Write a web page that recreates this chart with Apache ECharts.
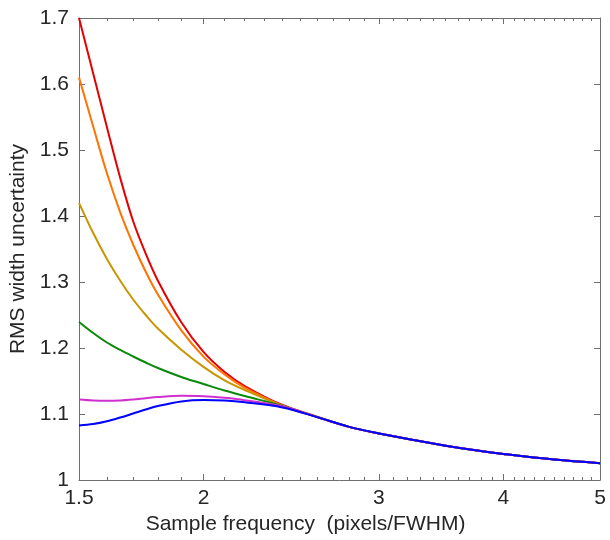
<!DOCTYPE html>
<html>
<head>
<meta charset="utf-8">
<script src="https://cdn.jsdelivr.net/npm/echarts@6/dist/echarts.min.js"></script>
<style>
html,body{margin:0;padding:0;background:#fff;}
#chart{width:610px;height:540px;}
</style>
</head>
<body>
<div id="chart"></div>
<script>
// Sample frequency (pixels/FWHM)
var xs = [1.5, 1.55, 1.6, 1.65, 1.7, 1.75, 1.8, 1.9, 2.0, 2.1, 2.2, 2.4, 2.6, 2.8, 3.0, 3.25, 3.5, 3.75, 4.0, 4.5, 5.0];
var redVals     = [1.700, 1.616, 1.5345, 1.4576, 1.392, 1.343, 1.302, 1.239, 1.194, 1.1636, 1.1424, 1.1136, 1.0958, 1.0805, 1.0705, 1.0605, 1.052, 1.045, 1.0395, 1.031, 1.0255];
var orangeVals  = [1.610, 1.5355, 1.4647, 1.4055, 1.3568, 1.3156, 1.281, 1.2267, 1.187, 1.160, 1.140, 1.1128, 1.0956, 1.0805, 1.0705, 1.0605, 1.052, 1.045, 1.0395, 1.031, 1.0255];
var goldVals    = [1.420, 1.3742, 1.335, 1.302, 1.2735, 1.250, 1.2295, 1.1975, 1.1715, 1.151, 1.1364, 1.1125, 1.0955, 1.0805, 1.0705, 1.0605, 1.052, 1.045, 1.0395, 1.031, 1.0255];
var greenVals   = [1.2394, 1.2227, 1.2083, 1.197, 1.1871, 1.178, 1.1697, 1.1561, 1.1455, 1.1356, 1.1273, 1.1122, 1.0955, 1.0805, 1.0705, 1.0605, 1.052, 1.045, 1.0395, 1.031, 1.0255];
var magentaVals = [1.122, 1.1205, 1.120, 1.1205, 1.122, 1.124, 1.1258, 1.1276, 1.127, 1.1245, 1.121, 1.1117, 1.0955, 1.0805, 1.0705, 1.0605, 1.052, 1.045, 1.0395, 1.031, 1.0255];
var blueVals    = [1.0826, 1.0848, 1.089, 1.0947, 1.1008, 1.1068, 1.112, 1.119, 1.1212, 1.1203, 1.1177, 1.110, 1.0953, 1.0805, 1.0705, 1.0605, 1.052, 1.045, 1.0395, 1.031, 1.0255];

var xMajorTicks = [1.5, 2, 3, 4, 5];
var xTickLabels = ['1.5', '2', '3', '4', '5'];
var xMinorTicks = [1.6, 1.7, 1.8, 1.9, 2.1, 2.2, 2.3, 2.4, 2.5, 2.6, 2.7, 2.8, 2.9, 3.1, 3.2, 3.3, 3.4, 3.5, 3.6, 3.7, 3.8, 3.9, 4.1, 4.2, 4.3, 4.4, 4.5, 4.6, 4.7, 4.8, 4.9];
var yTicks = [1, 1.1, 1.2, 1.3, 1.4, 1.5, 1.6, 1.7];
var yTickLabels = ['1', '1.1', '1.2', '1.3', '1.4', '1.5', '1.6', '1.7'];

var seriesNames = ['red', 'orange', 'gold', 'green', 'magenta', 'blue'];
var seriesVals = [redVals, orangeVals, goldVals, greenVals, magentaVals, blueVals];
var seriesColors = ['#e60000', '#ff7300', '#c89600', '#0a8a0a', '#d030d0', '#0000ff'];

var FONT = 'Liberation Sans, Arial, sans-serif';
var TXT = '#262626';
var AX = '#6e6e6e';

function pairs(vals) { return xs.map(function (x, i) { return [x, vals[i]]; }); }

function xAx(pos, ticks, len, showLabel, showLine) {
  return {
    type: 'log', logBase: 10, min: 1.5, max: 5, position: pos, gridIndex: 0,
    axisLine: { show: showLine, onZero: false, lineStyle: { color: AX, width: 1 } },
    axisTick: { show: true, inside: true, length: len, customValues: ticks, lineStyle: { color: AX, width: 1 } },
    axisLabel: showLabel ? {
      show: true, customValues: xMajorTicks, margin: 8, color: TXT, fontFamily: FONT, fontSize: 21,
      formatter: function (v) { var i = xMajorTicks.indexOf(+(+v).toFixed(3)); return i >= 0 ? xTickLabels[i] : ''; }
    } : { show: false },
    splitLine: { show: false }, minorTick: { show: false }
  };
}

var option = {
  animation: false,
  backgroundColor: '#ffffff',
  grid: { left: 79, right: 10, top: 18, bottom: 60, containLabel: false, outerBoundsMode: 'none' },
  xAxis: [
    Object.assign(xAx('bottom', xMajorTicks, 6, true, true), {
      name: 'Sample frequency  (pixels/FWHM)', nameLocation: 'middle', nameGap: 32,
      nameTextStyle: { color: TXT, fontFamily: FONT, fontSize: 21, padding: [0, 68, 0, 0] }
    }),
    xAx('bottom', xMinorTicks, 3, false, false),
    xAx('top', xMajorTicks, 6, false, true),
    xAx('top', xMinorTicks, 3, false, false)
  ],
  yAxis: [
    {
      type: 'value', min: 1, max: 1.7, interval: 0.1, position: 'left',
      name: 'RMS width uncertainty', nameLocation: 'middle', nameGap: 47,
      nameTextStyle: { color: TXT, fontFamily: FONT, fontSize: 21 },
      axisLine: { show: true, onZero: false, lineStyle: { color: AX, width: 1 } },
      axisTick: { show: true, inside: true, length: 6, lineStyle: { color: AX, width: 1 } },
      axisLabel: { color: TXT, fontFamily: FONT, fontSize: 21, margin: 10,
        formatter: function (v) { var i = yTicks.indexOf(+(+v).toFixed(3)); return i >= 0 ? yTickLabels[i] : ''; } },
      splitLine: { show: false }
    },
    {
      type: 'value', min: 1, max: 1.7, interval: 0.1, position: 'right',
      axisLine: { show: true, onZero: false, lineStyle: { color: AX, width: 1 } },
      axisTick: { show: true, inside: true, length: 6, lineStyle: { color: AX, width: 1 } },
      axisLabel: { show: false },
      splitLine: { show: false }
    }
  ],
  series: seriesNames.map(function (n, i) {
    return {
      name: n, type: 'line', xAxisIndex: 0, yAxisIndex: 0,
      data: pairs(seriesVals[i]), smooth: 0.35, showSymbol: false, symbol: 'none',
      lineStyle: { color: seriesColors[i], width: 2 }, z: 2 + i
    };
  })
};

var chart = echarts.init(document.getElementById('chart'), null, { renderer: 'canvas' });
chart.setOption(option);
</script>
</body>
</html>
